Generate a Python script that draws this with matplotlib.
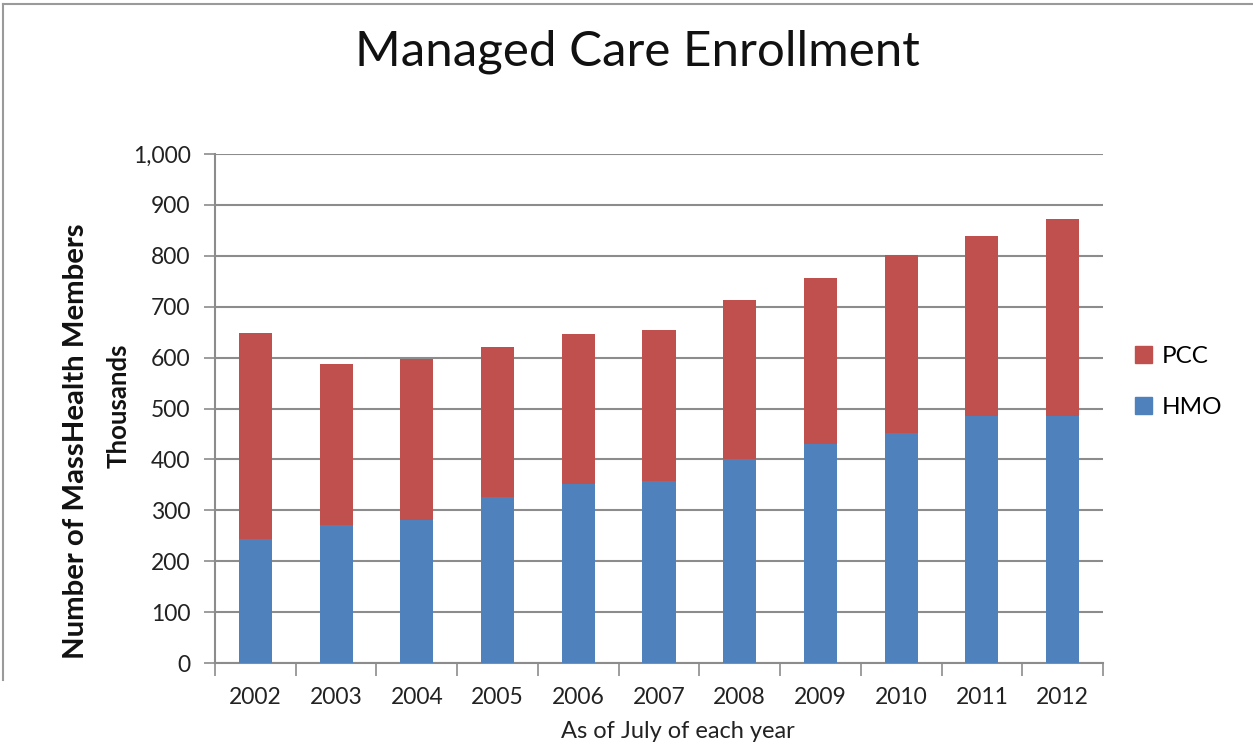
import matplotlib
matplotlib.use("Agg")
import matplotlib.pyplot as plt
from matplotlib.patches import Patch
import numpy as np

years = ["2002", "2003", "2004", "2005", "2006", "2007", "2008", "2009", "2010", "2011", "2012"]
hmo = [244, 272, 280, 326, 352, 358, 400, 430, 451, 486, 486]
total = [649, 588, 598, 621, 647, 655, 713, 757, 801, 838, 873]
pcc = [t - h for t, h in zip(total, hmo)]
yticks = [0, 100, 200, 300, 400, 500, 600, 700, 800, 900, 1000]

blue = "#4F81BD"
red = "#C0504D"
grid = "#8C8C8C"

plt.rcParams['font.family'] = ['Lato', 'DejaVu Sans']

W, H = 1253, 756
fig = plt.figure(figsize=(W / 100, H / 100), dpi=100)
ax = fig.add_axes([215 / W, 1 - 663 / H, (1103 - 215) / W, (663 - 154) / H])

x = np.arange(len(years))
ax.bar(x, hmo, width=0.41, color=blue, label="HMO", zorder=3)
ax.bar(x, pcc, bottom=hmo, width=0.41, color=red, label="PCC", zorder=3)

ax.set_xlim(-0.5, len(years) - 0.5)
ax.set_ylim(0, 1000)
ax.set_yticks(yticks)
ax.set_yticklabels([f"{v:,}" for v in yticks], fontsize=16.5, color="#222222")
ax.yaxis.grid(True, color=grid, linewidth=1.5, zorder=0)
ax.set_axisbelow(True)

ax.set_xticks(x)
ax.set_xticklabels(years, fontsize=16.5, color="#222222")
ax.set_xticks(np.arange(-0.5, len(years)), minor=True)
ax.tick_params(axis='x', which='major', length=0, pad=17)
ax.tick_params(axis='x', which='minor', length=9, color=grid, width=1.2)
ax.tick_params(axis='y', length=8, color=grid, width=1.2, pad=9.5)

for s in ["top", "right"]:
    ax.spines[s].set_visible(False)
for s in ["left", "bottom"]:
    ax.spines[s].set_color(grid)
    ax.spines[s].set_linewidth(1.5)

fig.text(678 / W, 1 - 731 / H, "As of July of each year", fontsize=17, ha="center", va="center", color="#222222")

fig.text(637 / W, 1 - 52 / H, "Managed Care Enrollment", fontsize=35.5, ha="center", va="center", color="#111111")
fig.text(76 / W, 1 - 441 / H, "Number of MassHealth Members", fontsize=21.2, fontweight="bold",
         rotation=90, ha="center", va="center", color="#111111")
fig.text(119 / W, 1 - 406 / H, "Thousands", fontsize=18.5, fontweight="bold",
         rotation=90, ha="center", va="center", color="#111111")

handles = [Patch(color=red, label="PCC"), Patch(color=blue, label="HMO")]
fig.legend(handles=handles, loc="center left", bbox_to_anchor=(1113 / W, 1 - 382 / H),
           frameon=False, fontsize=17.5, handlelength=0.7, handleheight=0.7,
           labelspacing=1.2, handletextpad=0.4)

# chart border (top and left edges visible in the reference)
fig.add_artist(plt.Line2D([3 / W, 1], [1 - 4 / H, 1 - 4 / H], color="#9A9A9A", linewidth=1.5))
fig.add_artist(plt.Line2D([3 / W, 3 / W], [1 - 4 / H, 1 - 680 / H], color="#9A9A9A", linewidth=1.5))

fig.savefig("out.png", dpi=100, facecolor="white")
